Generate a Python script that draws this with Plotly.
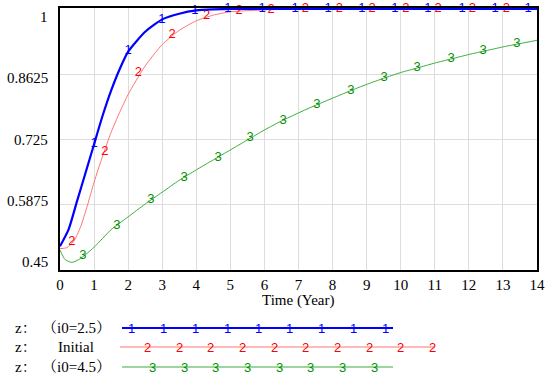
import plotly.graph_objects as go

# ---------------- data ----------------
t_blue = [0, 0.25, 0.5, 0.75, 1, 1.25, 1.5, 1.75, 2, 2.5, 3, 3.5, 4, 4.5, 5, 6, 8, 10, 12, 14]
v_blue = [0.50, 0.535, 0.595, 0.655, 0.715, 0.775, 0.828, 0.873, 0.91, 0.952, 0.978, 0.99, 0.997, 0.999, 1.0, 1.0, 1.0, 1.0, 1.0, 1.0]

t_red = [0, 0.2, 0.4, 0.6, 0.8, 1, 1.25, 1.5, 1.75, 2, 2.5, 3, 3.5, 4, 4.5, 5, 6, 7, 10, 14]
v_red = [0.495, 0.497, 0.51, 0.54, 0.585, 0.635, 0.69, 0.74, 0.782, 0.82, 0.88, 0.925, 0.955, 0.975, 0.987, 0.994, 0.998, 1.0, 1.0, 1.0]

t_green = [0, 0.15, 0.35, 0.6, 1, 1.5, 2, 2.5, 3, 3.5, 4, 4.5, 5, 5.5, 6, 6.5, 7, 7.5, 8, 8.5,
           9, 9.5, 10, 10.5, 11, 11.5, 12, 12.5, 13, 13.5, 14]
v_green = [0.492, 0.472, 0.466, 0.474, 0.498, 0.535, 0.562, 0.589, 0.614, 0.639, 0.661, 0.682, 0.703,
           0.724, 0.745, 0.764, 0.781, 0.797, 0.812, 0.827, 0.841, 0.854, 0.866, 0.876, 0.886, 0.895,
           0.904, 0.912, 0.920, 0.927, 0.934]

# series number markers drawn along each curve
mk_blue_t = [1.0, 2.0, 2.99, 3.96, 4.93, 5.93, 6.9, 7.87, 8.86, 9.83, 10.8, 11.8, 12.77, 13.74]
mk_blue_v = [0.716, 0.912, 0.978, 0.996, 1.0, 1.0, 1.0, 1.0, 1.0, 1.0, 1.0, 1.0, 1.0, 1.0]
mk_red_t = [0.35, 1.32, 2.3, 3.29, 4.3, 5.26, 6.2, 7.2, 8.2, 9.16, 10.15, 11.1, 12.1, 13.1]
mk_red_v = [0.509, 0.70, 0.866, 0.945, 0.986, 0.996, 0.999, 1.0, 1.0, 1.0, 1.0, 1.0, 1.0, 1.0]
mk_green_t = [0.67, 1.67, 2.67, 3.64, 4.64, 5.58, 6.55, 7.54, 8.54, 9.51, 10.48, 11.48, 12.42, 13.41]
mk_green_v = [0.481, 0.544, 0.597, 0.645, 0.687, 0.729, 0.765, 0.798, 0.828, 0.855, 0.876, 0.895, 0.912, 0.927]

x_ticks = list(range(0, 15))
y_ticks = [0.45, 0.5875, 0.725, 0.8625, 1]
y_tick_labels = ["0.45", "0.5875", "0.725", "0.8625", "1"]

legend_names = ["（i0=2.5）", "Initial", "（i0=4.5）"]
legend_symbols = ["1", "2", "3"]

# ---------------- layout geometry (reference pixels) ----------------
W, H = 550, 378
L, R, T, B = 60, 537, 8, 270


def px(x):
    return x / W


def py(y):
    return 1 - y / H


blue_line, blue_txt = "#0000FF", "#0000FF"
red_line, red_txt = "#FF7575", "#FF0000"
green_line, green_txt = "#3DAE3D", "#009000"
serif = "Liberation Serif, Noto Serif CJK SC, Noto Sans CJK SC"
sans = "Liberation Sans"

fig = go.Figure()

series = [
    (t_blue, v_blue, mk_blue_t, mk_blue_v, blue_line, blue_txt, 2.2, "1"),
    (t_red, v_red, mk_red_t, mk_red_v, red_line, red_txt, 1.0, "2"),
    (t_green, v_green, mk_green_t, mk_green_v, green_line, green_txt, 1.0, "3"),
]
for t, v, mt, mv, lc, tc, lw, sym in [series[2], series[1], series[0]]:
    fig.add_trace(go.Scatter(x=t, y=v, mode="lines", line=dict(color=lc, width=lw, shape="spline", smoothing=0.6),
                             showlegend=False, hoverinfo="skip", cliponaxis=False))
    fig.add_trace(go.Scatter(x=mt, y=mv, mode="text", text=[sym] * len(mt), textposition="middle center",
                             textfont=dict(family=sans, size=13, color=tc), showlegend=False,
                             hoverinfo="skip", cliponaxis=False))

# ---------------- legend ----------------
leg_rows = [328, 347, 367]
leg_lines = [(122, 393), (120, 435), (122, 393)]
leg_marks = [
    [131, 163, 195, 227, 258, 289, 321, 353, 385],
    [147, 179, 210, 242, 274, 305, 337, 369, 400, 432],
    [152, 184, 215, 247, 279, 310, 342, 374],
]
leg_cols = [(blue_line, blue_txt, 2.0), (red_line, red_txt, 1.2), (green_line, green_txt, 1.2)]
for i in range(3):
    lc, tc, lw = leg_cols[i]
    y = leg_rows[i]
    x0, x1 = leg_lines[i]
    fig.add_shape(type="line", xref="paper", yref="paper", x0=px(x0), x1=px(x1), y0=py(y), y1=py(y),
                  line=dict(color=lc, width=lw))
    for mx in leg_marks[i]:
        fig.add_annotation(x=px(mx), y=py(y), xref="paper", yref="paper", text=legend_symbols[i],
                           showarrow=False, font=dict(family=sans, size=13, color=tc),
                           xanchor="center", yanchor="middle", borderpad=0)
    fig.add_annotation(x=px(26), y=py(y), xref="paper", yref="paper", text="z：", showarrow=False,
                       font=dict(family=serif, size=15, color="black"), xanchor="center", yanchor="middle")
    fig.add_annotation(x=px(76), y=py(y), xref="paper", yref="paper", text=legend_names[i], showarrow=False,
                       font=dict(family=serif, size=15, color="black"), xanchor="center", yanchor="middle")

# y tick labels (Vensim style, spread slightly inside the gridlines)
for i, lab in enumerate(y_tick_labels):
    yy = 262 - i * (262 - 17) / 4
    fig.add_annotation(x=px(50), y=py(yy), xref="paper", yref="paper", text=lab, showarrow=False,
                       font=dict(family=serif, size=15, color="black"), xanchor="right", yanchor="middle")

fig.add_annotation(x=px((L + R) / 2), y=py(300), xref="paper", yref="paper", text="Time (Year)",
                   showarrow=False, font=dict(family=serif, size=15, color="black"),
                   xanchor="center", yanchor="middle")

fig.update_layout(
    width=W, height=H,
    margin=dict(l=0, r=0, t=0, b=0),
    paper_bgcolor="white", plot_bgcolor="white",
    xaxis=dict(domain=[px(L), px(R)], range=[0, 14], tickvals=x_ticks, ticktext=[str(v) for v in x_ticks],
               showgrid=True, gridcolor="#DDDDDD", gridwidth=1, zeroline=False,
               showline=True, linecolor="black", linewidth=2, mirror=True, ticks="",
               tickfont=dict(family=serif, size=15, color="black"), automargin=False),
    yaxis=dict(domain=[py(B), py(T)], range=[0.45, 1.002], tickvals=y_ticks, showticklabels=False,
               showgrid=True, gridcolor="#DDDDDD", gridwidth=1, zeroline=False,
               showline=True, linecolor="black", linewidth=2, mirror=True, ticks="", automargin=False),
)

fig.write_html("out.html", config={"displayModeBar": False},
               post_script="document.body.style.margin='0';document.body.style.overflow='hidden';")
